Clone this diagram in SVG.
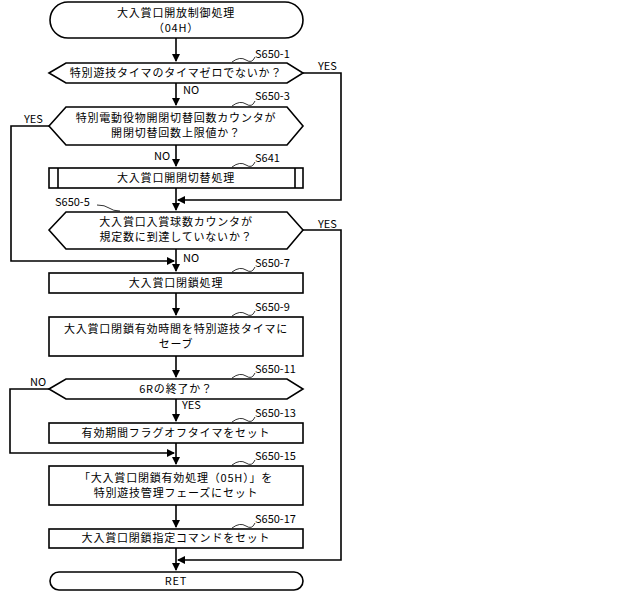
<svg xmlns="http://www.w3.org/2000/svg" width="640" height="592" viewBox="0 0 640 592">
<style>
.s{fill:#fff;stroke:#000;stroke-width:1.6}
.l{fill:none;stroke:#000;stroke-width:1.6}
.q{fill:none;stroke:#000;stroke-width:0.8}
text{font-family:"Noto Sans CJK JP","Liberation Sans",sans-serif;font-size:11px;fill:#000}
.c{text-anchor:middle;letter-spacing:0.8px}
</style>
<defs><marker id="a" markerWidth="8" markerHeight="8" refX="7" refY="4" orient="auto" markerUnits="userSpaceOnUse"><path d="M0,0L8,4L0,8z"/></marker></defs>
<rect width="640" height="592" fill="#fff"/>
<g id="connectors">
<path class="l" d="M176,38V61" marker-end="url(#a)"/>
<path class="l" d="M176,83V105" marker-end="url(#a)"/>
<path class="l" d="M176,145V166" marker-end="url(#a)"/>
<path class="l" d="M176,188V210" marker-end="url(#a)"/>
<path class="l" d="M303,73H341V200H178" marker-end="url(#a)"/>
<path class="l" d="M49,126H11V261H174" marker-end="url(#a)"/>
<path class="l" d="M176,249V271" marker-end="url(#a)"/>
<path class="l" d="M303,230H341V560H178" marker-end="url(#a)"/>
<path class="l" d="M176,293V315" marker-end="url(#a)"/>
<path class="l" d="M176,356V377" marker-end="url(#a)"/>
<path class="l" d="M176,399V421" marker-end="url(#a)"/>
<path class="l" d="M49,389H10V453H174" marker-end="url(#a)"/>
<path class="l" d="M176,443V464" marker-end="url(#a)"/>
<path class="l" d="M176,505V527" marker-end="url(#a)"/>
<path class="l" d="M176,548V570" marker-end="url(#a)"/>
<text x="183" y="94">NO</text>
<text x="318" y="70">YES</text>
<text x="154" y="160">NO</text>
<text x="24" y="123">YES</text>
<text x="183" y="262">NO</text>
<text x="318" y="228">YES</text>
<text x="30" y="386">NO</text>
<text x="182" y="409">YES</text>
</g>
<g id="start"><rect class="s" x="50" y="2" width="253" height="36" rx="18"/><text class="c" x="176" y="17">大入賞口開放制御処理</text><text class="c" x="176" y="32">（04H）</text></g>
<g id="s650-1"><path class="s" d="M49,73L66,63H287L303,73L287,83H66Z"/><text class="c" x="176" y="77">特別遊技タイマのタイマゼロでないか？</text><path class="q" d="M232,62q8,-6 14,-2t9,-3"/><text x="255" y="58">S650-1</text></g>
<g id="s650-3"><path class="s" d="M49,126L66,107H287L303,126L287,145H66Z"/><text class="c" x="176" y="122">特別電動役物開閉切替回数カウンタが</text><text class="c" x="176" y="137">開閉切替回数上限値か？</text><path class="q" d="M232,106q8,-6 14,-2t9,-3"/><text x="255" y="100">S650-3</text></g>
<g id="s641"><rect class="s" x="49" y="168" width="254" height="20"/><path class="l" d="M58,168V188M295,168V188"/><text class="c" x="176" y="182">大入賞口開閉切替処理</text><path class="q" d="M232,167q8,-6 14,-2t9,-3"/><text x="255" y="162">S641</text></g>
<g id="s650-5"><path class="s" d="M49,230L66,212H287L303,230L287,249H66Z"/><text class="c" x="176" y="226">大入賞口入賞球数カウンタが</text><text class="c" x="176" y="241">規定数に到達していないか？</text><path class="q" d="M97,205q8,0 12,3t11,3"/><text x="55" y="206">S650-5</text></g>
<g id="s650-7"><rect class="s" x="49" y="273" width="254" height="20"/><text class="c" x="176" y="287">大入賞口閉鎖処理</text><path class="q" d="M232,272q8,-6 14,-2t9,-3"/><text x="255" y="267">S650-7</text></g>
<g id="s650-9"><rect class="s" x="49" y="317" width="254" height="39"/><text class="c" x="176" y="333">大入賞口閉鎖有効時間を特別遊技タイマに</text><text class="c" x="176" y="348">セーブ</text><path class="q" d="M232,316q8,-6 14,-2t9,-3"/><text x="255" y="311">S650-9</text></g>
<g id="s650-11"><path class="s" d="M49,389L66,379H287L303,389L287,399H66Z"/><text class="c" x="176" y="393">6Rの終了か？</text><path class="q" d="M232,378q8,-6 14,-2t9,-3"/><text x="255" y="373">S650-11</text></g>
<g id="s650-13"><rect class="s" x="49" y="423" width="254" height="20"/><text class="c" x="176" y="437">有効期間フラグオフタイマをセット</text><path class="q" d="M232,422q8,-6 14,-2t9,-3"/><text x="255" y="417">S650-13</text></g>
<g id="s650-15"><rect class="s" x="49" y="466" width="254" height="39"/><text class="c" x="176" y="482">「大入賞口閉鎖有効処理（05H）」を</text><text class="c" x="176" y="497">特別遊技管理フェーズにセット</text><path class="q" d="M232,465q8,-6 14,-2t9,-3"/><text x="255" y="460">S650-15</text></g>
<g id="s650-17"><rect class="s" x="49" y="529" width="254" height="19"/><text class="c" x="176" y="542">大入賞口閉鎖指定コマンドをセット</text><path class="q" d="M232,528q8,-6 14,-2t9,-3"/><text x="255" y="523">S650-17</text></g>
<g id="ret"><rect class="s" x="50" y="572" width="253" height="18" rx="9"/><text class="c" x="176" y="585">RET</text></g>
</svg>
